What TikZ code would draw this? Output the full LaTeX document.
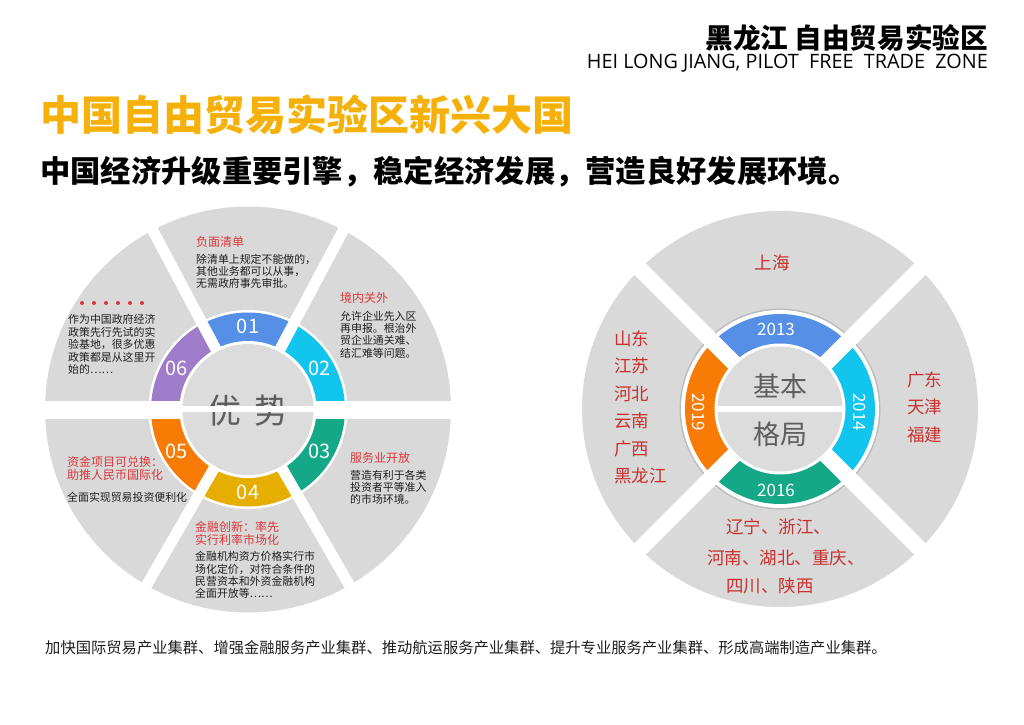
\documentclass[tikz,border=0pt]{standalone}
\usepackage{fontspec}
\setmainfont{Noto Sans CJK SC}
\newfontfamily\latinf{Open Sans}
\definecolor{gbg}{HTML}{D9D9D9}
\definecolor{cgray}{HTML}{DCDCDC}
\definecolor{shadowc}{HTML}{BBBBBB}
\definecolor{cA}{HTML}{5590E6}
\definecolor{cB}{HTML}{12C5EE}
\definecolor{cC}{HTML}{14A886}
\definecolor{cD}{HTML}{E5AE00}
\definecolor{cE}{HTML}{F77B05}
\definecolor{cF}{HTML}{9F7CC9}
\definecolor{tred}{HTML}{D9383A}
\definecolor{pred}{HTML}{C8312E}
\definecolor{tbody}{HTML}{1E1E1E}
\definecolor{ctext}{HTML}{5E5E5E}
\definecolor{gold}{HTML}{F5B10A}
\tikzset{
  numlbl/.style={text=white, font=\fontsize{20}{20}\selectfont, inner sep=0},
  ttl/.style={text=tred, font=\fontsize{12}{13.5}\selectfont, anchor=north west, align=left, inner sep=0},
  bodytxt/.style={text=tbody, font=\fontsize{10.9}{12.4}\selectfont, anchor=north west, align=left, inner sep=0},
  prov/.style={text=pred, font=\fontsize{17.5}{27.5}\selectfont, inner sep=0},
  yearlbl/.style={text=white, font=\fontsize{17}{17}\selectfont, inner sep=0},
  centxt/.style={text=ctext, inner sep=0},
}
\begin{document}
\begin{tikzpicture}[x=1pt,y=1pt]
\useasboundingbox (0,0) rectangle (1024,724);
% ---------- header ----------
\node[anchor=east, inner sep=0, font=\fontsize{27.6}{27.6}\selectfont\bfseries] (hdcn) at (988,686) {黑龙江 自由贸易实验区};
\node[anchor=base east, inner sep=0, font=\latinf\fontsize{19.8}{20}\selectfont] (hden) at (988,655) {HEI LONG JIANG, PILOT\ \ FREE\ \ TRADE\ \ ZONE};
\node[anchor=west, inner sep=0, text=gold, font=\fontsize{41}{41}\selectfont\bfseries] (title) at (40,609) {中国自由贸易实验区新兴大国};
\node[anchor=west, inner sep=0, font=\fontsize{30.3}{30.3}\selectfont\bfseries] (subtitle) at (40,552) {中国经济升级重要引擎，稳定经济发展，营造良好发展环境。};
\node[anchor=west, inner sep=0, text=tbody, font=\fontsize{15.3}{15.3}\selectfont] (footer) at (45,76) {加快国际贸易产业集群、增强金融服务产业集群、推动航运服务产业集群、提升专业服务产业集群、形成高端制造产业集群。};

% ---------- left circle ----------
\begin{scope}[shift={(248,314.5)}]
  \fill[gbg] (0,0) circle (203);
  \fill[white] (0,0) circle (99.5);
  \fill[cA] (0,0) -- (62:97) arc (62:118:97) -- cycle;
  \fill[cB] (0,0) -- (0:97) arc (0:62:97) -- cycle;
  \fill[cC] (0,0) -- (-60:97) arc (-60:0:97) -- cycle;
  \fill[cD] (0,0) -- (-120:97) arc (-120:-60:97) -- cycle;
  \fill[cE] (0,0) -- (-180:97) arc (-180:-120:97) -- cycle;
  \fill[cF] (0,0) -- (118:97) arc (118:180:97) -- cycle;
  \draw[white, line width=18] (-210,0) -- (210,0);
  \draw[white, line width=11] (0,0) -- (62:210);
  \draw[white, line width=11] (0,0) -- (118:210);
  \draw[white, line width=11] (0,0) -- (-60:210);
  \draw[white, line width=11] (0,0) -- (-120:210);
  \fill[white] (0,0) circle (68.5);
  \fill[cgray] (0,0) circle (65.5);
  \node[numlbl] (n01) at (90:83) {01};
  \node[numlbl] (n02) at (30:83) {02};
  \node[numlbl] (n03) at (-30:83) {03};
  \node[numlbl] (n04) at (-90:83) {04};
  \node[numlbl] (n05) at (-150:83) {05};
  \node[numlbl] (n06) at (150:83) {06};
  \node[centxt, font=\fontsize{34}{34}\selectfont] (you) at (-24,-1) {优};
  \node[centxt, font=\fontsize{34}{34}\selectfont] (shi) at (23,-1) {势};
  \draw[white, line width=6] (-66,1) -- (66,1);
\end{scope}
% left texts
\node[ttl] (t1) at (196,488) {负面清单};
\node[bodytxt, font=\fontsize{10.9}{12}\selectfont] (b1) at (196,470.4) {除清单上规定不能做的，\\其他业务都可以从事，\\无需政府事先审批。};
\node[ttl] (t2) at (340,432) {境内关外};
\node[bodytxt] (b2) at (340,413.4) {允许企业先入区\\再申报。根治外\\贸企业通关难、\\结汇难等问题。};
\node[ttl] (t3) at (350,272) {服务业开放};
\node[bodytxt] (b3) at (350,254.4) {营造有利于各类\\投资者平等准入\\的市场环境。};
\node[ttl] (t4) at (195,203) {金融创新：率先\\实行利率市场化};
\node[bodytxt] (b4) at (195,172.7) {金融机构资方价格实行市\\场化定价，对符合条件的\\民营资本和外资金融机构\\全面开放等……};
\node[ttl] (t5) at (67,268) {资金项目可兑换：\\助推人民币国际化};
\node[bodytxt] (b5) at (67,232.4) {全面实现贸易投资便利化};
\foreach \i in {0,...,5} \fill[tred] (82+12*\i,421) circle (2);
\node[bodytxt] (b6) at (68,409.5) {作为中国政府经济\\政策先行先试的实\\验基地，很多优惠\\政策都是从这里开\\始的……};

% ---------- right circle ----------
\begin{scope}[shift={(780,315)}]
  \fill[gbg] (0,0) circle (198);
  \fill[shadowc] (0,0) circle (100.5);
  \fill[white] (0,0) circle (99);
  \fill[cA] (0,0) -- (45:95) arc (45:135:95) -- cycle;
  \fill[cB] (0,0) -- (-45:95) arc (-45:45:95) -- cycle;
  \fill[cC] (0,0) -- (-135:95) arc (-135:-45:95) -- cycle;
  \fill[cE] (0,0) -- (135:95) arc (135:225:95) -- cycle;
  \draw[white, line width=16] (45:205) -- (225:205);
  \draw[white, line width=16] (135:205) -- (-45:205);
  \fill[white] (0,0) circle (65.5);
  \fill[cgray] (0,0) circle (62.5);
  \node[yearlbl] (y13) at (-4,80) {2013};
  \node[yearlbl, rotate=-90] (y14) at (80,-3) {2014};
  \node[yearlbl] (y16) at (-4,-81) {2016};
  \node[yearlbl, rotate=-90] (y19) at (-81,-3) {2019};
  \node[centxt, font=\fontsize{27}{27}\selectfont] (jb) at (0,23) {基本};
  \node[centxt, font=\fontsize{27}{27}\selectfont] (gj) at (0,-25) {格局};
  \draw[white, line width=5.5] (-63,0) -- (63,0);
\end{scope}
\node[prov] (sh) at (772,461) {上海};
\node[prov, anchor=north west, align=left] (leftprov) at (614,393.75) {山东\\江苏\\河北\\云南\\广西\\黑龙江};
\node[prov, anchor=north west, align=left] (rightprov) at (907,352.75) {广东\\天津\\福建};
\node[prov, anchor=west] (bp1) at (726,197) {辽宁、浙江、};
\node[prov, anchor=west] (bp2) at (707,166) {河南、湖北、重庆、};
\node[prov, anchor=west] (bp3) at (726,138) {四川、陕西};
\end{tikzpicture}
\end{document}
